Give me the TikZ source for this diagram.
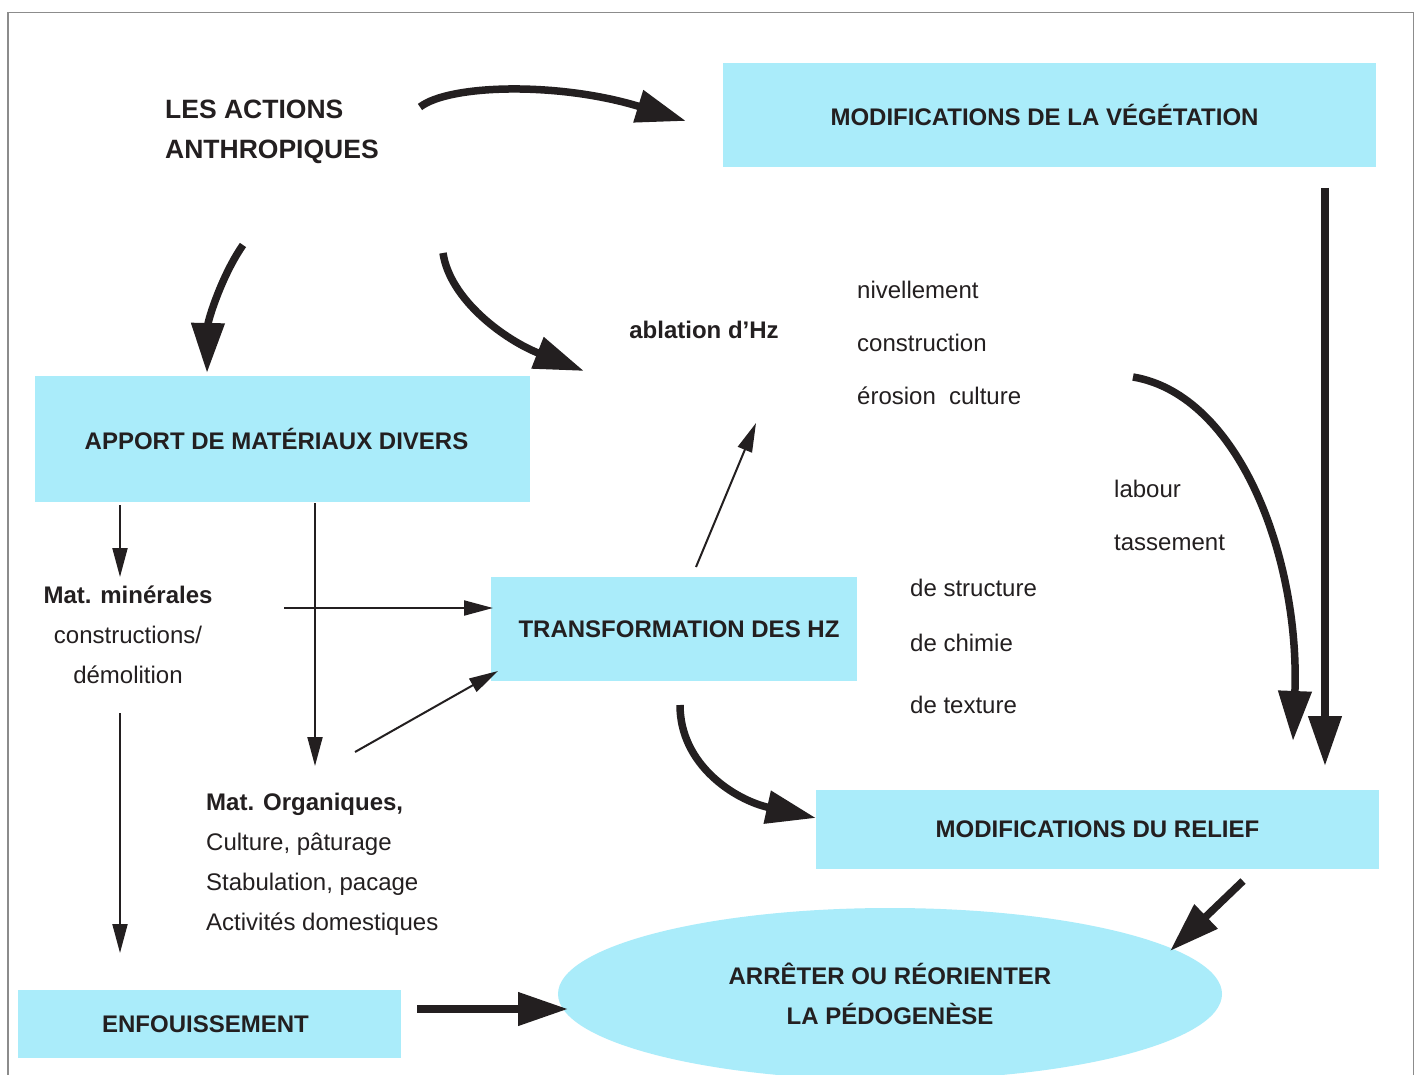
\documentclass[tikz,border=0pt]{standalone}
\usepackage{fontspec}
\setmainfont{Liberation Sans}
\usetikzlibrary{arrows.meta,shapes.geometric}
\definecolor{boxcyan}{RGB}{170,236,250}
\definecolor{ink}{RGB}{35,31,32}
\definecolor{framegray}{RGB}{140,140,140}

\begin{document}
\begin{tikzpicture}[x=1pt,y=-1pt,
  box/.style={fill=boxcyan, inner sep=0pt, text=ink,
    font=\bfseries\fontsize{24}{40}\selectfont},
  lbl/.style={inner sep=0pt, text=ink, font=\fontsize{24}{40}\selectfont},
  boldlbl/.style={lbl, font=\bfseries\fontsize{24}{40}\selectfont},
  titlelbl/.style={lbl, font=\bfseries\fontsize{26.5}{40}\selectfont},
  widelbl/.style={lbl, font=\fontsize{24}{53}\selectfont},
  heavy/.style={draw=ink, line width=7.5pt, -{Triangle[length=50pt,width=32pt]}},
  light/.style={draw=ink, line width=2pt, -{Triangle[length=29pt,width=15pt]}},
]
% page and frame
\fill[white] (0,0) rectangle (1420,1075);
\clip (0,0) rectangle (1420,1075);
\draw[framegray, line width=1.5pt] (8,1090) -- (8,12.5) -- (1413.5,12.5) -- (1413.5,1090);

% boxes
\node[box, minimum width=653pt, minimum height=104pt] (veg) at (1049.5,115) {\kern-10pt MODIFICATIONS DE LA VÉGÉTATION};
\node[box, minimum width=495pt, minimum height=126pt] (apport) at (282.5,439) {\kern-12pt APPORT DE MATÉRIAUX DIVERS};
\node[box, minimum width=366pt, minimum height=104pt] (transf) at (674,629) {\raisebox{-3pt}{TRANSFORMATION DES HZ}\kern-10pt};
\node[box, minimum width=563pt, minimum height=79pt] (relief) at (1097.5,829.5) {MODIFICATIONS DU RELIEF};
\node[box, minimum width=383pt, minimum height=68pt] (enfou) at (209.5,1024) {\kern-8pt ENFOUISSEMENT};
\node[box, ellipse, align=center, minimum width=664pt, minimum height=172pt] (pedo) at (890,994)
  {ARRÊTER OU RÉORIENTER\\LA PÉDOGENÈSE};

% labels
\node[titlelbl, align=left, anchor=west] (actions) at (165,132) {LES ACTIONS\\ANTHROPIQUES};
\node[boldlbl] (ablation) at (704,330) {ablation d’Hz};
\node[widelbl, align=left, anchor=west] (causes) at (857,343) {nivellement\\construction\\érosion\hspace{0.55em}culture};
\node[widelbl, align=left, anchor=west] (labour) at (1114,515) {labour\\tassement};
\node[lbl, anchor=base west] (structure) at (910,596) {de structure};
\node[lbl, anchor=base west] (chimie) at (910,651) {de chimie};
\node[lbl, anchor=base west] (texture) at (910,713) {de texture};
\node[lbl, align=center] (mineral) at (128,635) {\textbf{Mat. minérales}\\constructions/\\démolition};
\node[lbl, align=left, anchor=west] (organic) at (206,864)
  {\textbf{Mat. Organiques,}\\Culture, pâturage\\Stabulation, pacage\\Activités domestiques};

% connector ends
\coordinate (actOut)  at (420,107);
\coordinate (vegIn)   at (686,121);
\coordinate (actDown) at (243,245);
\coordinate (appIn)   at (207,373);
\coordinate (actMid)  at (443,253);
\coordinate (ablIn)   at (584,371);
\coordinate (labOut)  at (1133,377);
\coordinate (relInA)  at (1293,741);
\coordinate (vegOut)  at (1325,188);
\coordinate (relInB)  at (1325,766);
\coordinate (trOut)   at (680,705);
\coordinate (relIn)   at (816,818);
\coordinate (relOut)  at (1243,881);
\coordinate (pedIn)   at (1170,951);
\coordinate (enfOut)  at (417,1009);
\coordinate (pedInL)  at (568,1009);
\coordinate (appOutA) at (120,505);
\coordinate (minIn)   at (120,577);
\coordinate (minOut)  at (120,713);
\coordinate (enfIn)   at (120,953);
\coordinate (appOutB) at (315,503);
\coordinate (orgIn)   at (315,766);
\coordinate (minSide) at (284,608);
\coordinate (trInA)   at (493,608);
\coordinate (orgSide) at (355,752);
\coordinate (trInB)   at (498,671);
\coordinate (trTop)   at (696,567);
\coordinate (ablOut)  at (756,423);

% heavy connectors
\draw[heavy] (actOut) .. controls (450,84) and (560,82) .. (vegIn);
\draw[heavy] (actDown) .. controls (222,275) and (208,320) .. (appIn);
\draw[heavy] (actMid) .. controls (450,300) and (505,340) .. (ablIn);
\draw[heavy] (labOut) .. controls (1240,395) and (1300,560) .. (relInA);
\draw[heavy] (vegOut) -- (relInB);
\draw[heavy] (trOut) .. controls (680,765) and (735,800) .. (relIn);
\draw[heavy] (relOut) -- (pedIn);
\draw[heavy] (enfOut) -- (pedInL);

% light connectors
\draw[light] (appOutA) -- (minIn);
\draw[light] (minOut) -- (enfIn);
\draw[light] (appOutB) -- (orgIn);
\draw[light] (minSide) -- (trInA);
\draw[light] (orgSide) -- (trInB);
\draw[light] (trTop) -- (ablOut);
\end{tikzpicture}
\end{document}
